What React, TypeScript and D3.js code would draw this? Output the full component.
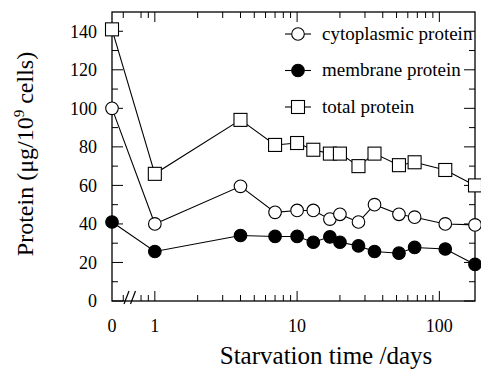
import React from 'react';
import * as d3 from 'd3';

// starvation time in days (0 = start, drawn at the left end of the log axis)
const days = [0, 1, 4, 7, 10, 13, 17, 20, 27, 35, 52, 67, 110, 178];
const cytoplasmic = [100, 40, 59.5, 46, 47, 47, 42.5, 45, 41, 50, 45, 43.5, 40, 39.5];
const membrane = [41, 25.7, 34, 33.5, 33.5, 30.5, 33.3, 30.5, 28.6, 25.7, 24.8, 27.8, 27, 19];
const total = [141, 66, 94, 81, 82, 78.5, 76.5, 76.5, 70, 76.5, 70.5, 72, 68, 60];

const yTicks = [0, 20, 40, 60, 80, 100, 120, 140];
const yMinor = [10, 30, 50, 70, 90, 110, 130];
const xMajor = [1, 10, 100];
const xMinor = [0.6, 0.8, 0.9, 2, 3, 4, 5, 6, 7, 8, 9, 20, 30, 40, 50, 60, 70, 80, 90];
const xLabels = ['0', '1', '10', '100'];

const legendItems = [
  { name: 'cytoplasmic protein', kind: 'open' },
  { name: 'membrane protein', kind: 'filled' },
  { name: 'total protein', kind: 'square' },
];

const W = 481;
const H = 373;
const left = 112, right = 475, top = 12, bottom = 301;
const font = '"Liberation Serif", "Times New Roman", serif';

const App = () => {
  const x = d3.scaleLog().domain([0.5, 178]).range([left, right]);
  const y = d3.scaleLinear().domain([0, 150]).range([bottom, top]);
  const px = (d: number) => x(d === 0 ? 0.5 : d);

  const line = d3.line<number>()
    .x((_, i) => px(days[i]))
    .y(v => y(v));

  const marker = (kind: string, cx: number, cy: number, key: any) => {
    if (kind === 'square') {
      return <rect key={key} x={cx - 6.5} y={cy - 6.5} width={13} height={13}
        fill="#fff" stroke="#000" strokeWidth={1.1} />;
    }
    return <circle key={key} cx={cx} cy={cy} r={6.3}
      fill={kind === 'filled' ? '#000' : '#fff'} stroke="#000" strokeWidth={1.1} />;
  };

  const series = [
    { values: cytoplasmic, kind: 'open' },
    { values: membrane, kind: 'filled' },
    { values: total, kind: 'square' },
  ];

  const xLabelValues = [0.5, 1, 10, 100];
  const legendY = d3.scalePoint().domain(legendItems.map(d => d.name)).range([34, 107]);

  return (
    <svg width={W} height={H} style={{ position: 'absolute', left: 0, top: 0, background: '#fff' }}
      fontFamily={font}>
      {/* frame */}
      <rect x={left} y={top} width={right - left} height={bottom - top}
        fill="none" stroke="#000" strokeWidth={1.3} />

      {/* y ticks, left and right, pointing inward */}
      {yTicks.map(t => (
        <g key={'y' + t}>
          <line x1={left} x2={left + 11} y1={y(t)} y2={y(t)} stroke="#000" />
          <line x1={right} x2={right - 11} y1={y(t)} y2={y(t)} stroke="#000" />
          <text x={97} y={y(t)} dy="0.35em" textAnchor="end" fontSize={18}>{t}</text>
        </g>
      ))}
      {yMinor.map(t => (
        <g key={'ym' + t}>
          <line x1={left} x2={left + 6} y1={y(t)} y2={y(t)} stroke="#000" />
          <line x1={right} x2={right - 6} y1={y(t)} y2={y(t)} stroke="#000" />
        </g>
      ))}

      {/* x ticks, bottom and top */}
      {xMajor.map(t => (
        <g key={'x' + t}>
          <line x1={x(t)} x2={x(t)} y1={bottom} y2={bottom - 10} stroke="#000" />
          <line x1={x(t)} x2={x(t)} y1={top} y2={top + 10} stroke="#000" />
        </g>
      ))}
      {xMinor.map(t => (
        <g key={'xm' + t}>
          <line x1={x(t)} x2={x(t)} y1={bottom} y2={bottom - 6} stroke="#000" />
          <line x1={x(t)} x2={x(t)} y1={top} y2={top + 6} stroke="#000" />
        </g>
      ))}
      {xLabels.map((l, i) => (
        <text key={'xl' + l} x={x(xLabelValues[i])} y={332} textAnchor="middle" fontSize={18}>{l}</text>
      ))}

      {/* axis break */}
      {[127, 133.5].map(bx => (
        <line key={'b' + bx} x1={bx - 3} y1={bottom + 3} x2={bx + 2} y2={bottom - 10}
          stroke="#000" strokeWidth={1.2} />
      ))}

      {/* series */}
      {series.map((s, si) => (
        <g key={'s' + si}>
          <path d={line(s.values) || ''} fill="none" stroke="#000" strokeWidth={1.1} />
          {s.values.map((v, i) => marker(s.kind, px(days[i]), y(v), i))}
        </g>
      ))}

      {/* legend */}
      {legendItems.map(item => {
        const ly = legendY(item.name) as number;
        return (
          <g key={item.name}>
            <line x1={285} x2={311} y1={ly} y2={ly} stroke="#000" strokeWidth={1.1} />
            {marker(item.kind, 298, ly, 'm')}
            <text x={322} y={ly} dy="0.3em" fontSize={19}>{item.name}</text>
          </g>
        );
      })}

      {/* axis titles */}
      <text x={326} y={364} textAnchor="middle" fontSize={25}>Starvation time /days</text>
      <text transform={`translate(33, 154) rotate(-90)`} textAnchor="middle" fontSize={24}>
        Protein (μg/10<tspan dy="-9" fontSize={15}>9</tspan><tspan dy="9"> cells)</tspan>
      </text>
    </svg>
  );
};

export default App;
